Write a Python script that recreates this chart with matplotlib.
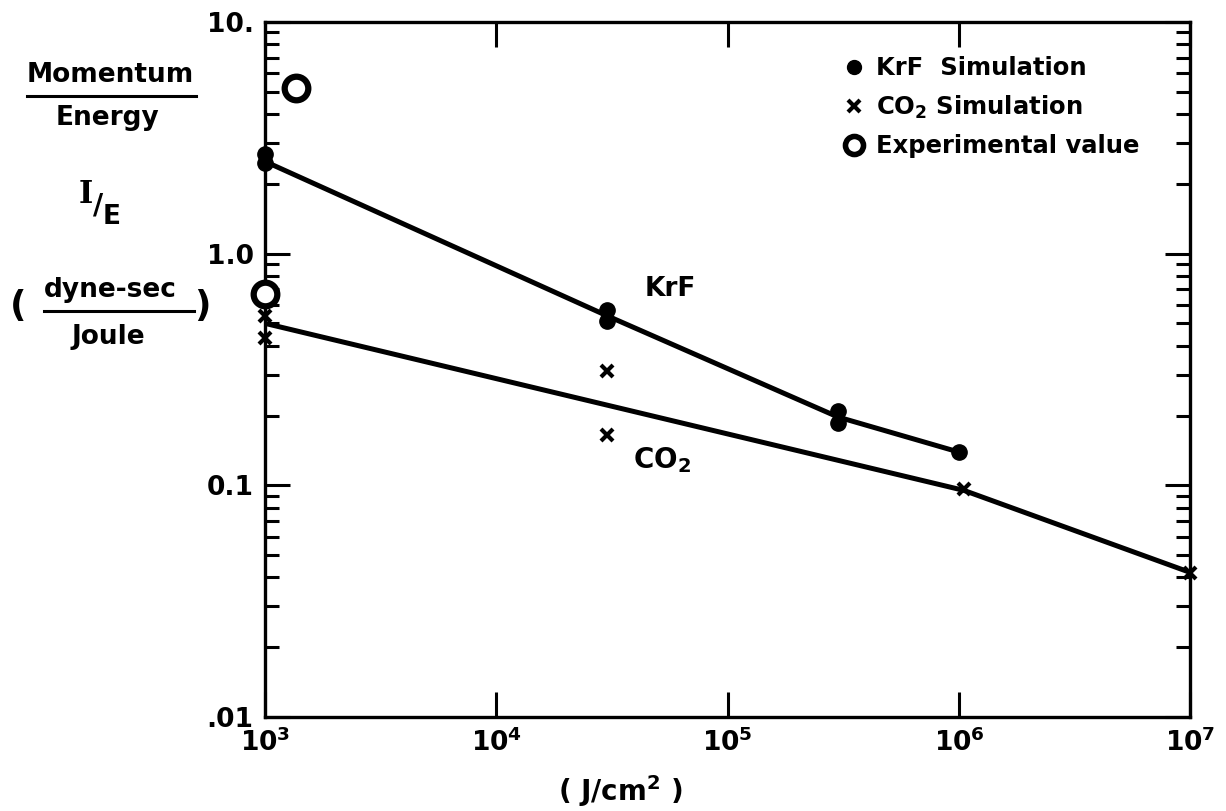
import numpy as np
import matplotlib.pyplot as plt
from matplotlib.lines import Line2D
from matplotlib.ticker import LogLocator, FixedLocator, NullFormatter

# values (log-log)
krf_x = [1e3, 1e3, 3e4, 3e4, 3e5, 3e5, 1e6]
krf_y = [2.7, 2.45, 0.57, 0.51, 0.21, 0.185, 0.139]
krf_line_x = [1e3, 3e4, 3e5, 1e6]
krf_line_y = [2.5, 0.54, 0.197, 0.139]

co2_x = [1e3, 1e3, 3e4, 3e4, 1.05e6, 1e7]
co2_y = [0.54, 0.43, 0.31, 0.165, 0.096, 0.042]
co2_line_x = [1e3, 1.05e6, 1e7]
co2_line_y = [0.50, 0.095, 0.042]

exp_x = [1.37e3, 1e3]
exp_y = [5.2, 0.67]

xticks = [1e3, 1e4, 1e5, 1e6, 1e7]
xticklabels = [r'$\mathbf{10^{3}}$', r'$\mathbf{10^{4}}$', r'$\mathbf{10^{5}}$',
               r'$\mathbf{10^{6}}$', r'$\mathbf{10^{7}}$']
yticks = [0.01, 0.1, 1.0, 10.0]
yticklabels = ['.01', '0.1', '1.0', '10.']

plt.rcParams['font.family'] = ['DejaVu Sans']
plt.rcParams['font.weight'] = 'bold'
plt.rcParams['mathtext.default'] = 'bf'

fig = plt.figure(figsize=(12.26, 8.11), dpi=100)
ax = fig.add_axes([0.216, 0.116, 0.755, 0.857])
ax.set_xscale('log')
ax.set_yscale('log')
ax.set_xlim(1e3, 1e7)
ax.set_ylim(0.01, 10)

# curves
ax.plot(krf_line_x, krf_line_y, color='black', lw=3.6, solid_capstyle='round', zorder=2)
ax.plot(co2_line_x, co2_line_y, color='black', lw=3.6, solid_capstyle='round', zorder=2)

# data points
ax.plot(krf_x, krf_y, 'o', color='black', ms=11, zorder=3, clip_on=False)
ax.plot(co2_x, co2_y, 'x', color='black', ms=9, mew=3, zorder=3, clip_on=False)
ax.plot(exp_x, exp_y, 'o', mfc='white', mec='black', ms=17, mew=4.5, zorder=4, clip_on=False)

# curve labels
ax.text(4.4e4, 0.70, 'KrF', fontsize=19, fontweight='bold', va='center')
ax.text(3.9e4, 0.128, 'CO$_2$', fontsize=20, fontweight='bold', va='center')

# axes styling
for s in ax.spines.values():
    s.set_linewidth(2.4)
ax.xaxis.set_major_locator(FixedLocator(xticks))
ax.xaxis.set_minor_locator(FixedLocator([]))
ax.set_xticklabels(xticklabels)
ax.yaxis.set_major_locator(FixedLocator(yticks))
ax.yaxis.set_minor_locator(LogLocator(base=10, subs=np.arange(2, 10)))
ax.yaxis.set_minor_formatter(NullFormatter())
ax.set_yticklabels(yticklabels)
ax.tick_params(which='both', direction='in', top=True, right=True, width=2.2)
ax.tick_params(which='major', length=18, labelsize=19, pad=8)
ax.tick_params(which='minor', length=10)
for lab in ax.get_xticklabels() + ax.get_yticklabels():
    lab.set_fontweight('bold')

# legend
handles = [
    Line2D([], [], ls='none', marker='o', color='black', ms=10),
    Line2D([], [], ls='none', marker='x', color='black', ms=8, mew=3),
    Line2D([], [], ls='none', marker='o', mfc='white', mec='black', ms=13, mew=4),
]
labels = ['KrF  Simulation', 'CO$_2$ Simulation', 'Experimental value']
ax.legend(handles, labels, loc='upper left', bbox_to_anchor=(0.605, 0.982),
          frameon=False, handlelength=0.6, handletextpad=0.6,
          labelspacing=0.55, prop={'weight': 'bold', 'size': 17.5})

# y-axis label block
fig.text(0.090, 0.907, 'Momentum', fontsize=19, fontweight='bold', ha='center', va='center')
fig.add_artist(Line2D([0.022, 0.160], [0.882, 0.882], color='black', lw=2.2))
fig.text(0.088, 0.855, 'Energy', fontsize=19, fontweight='bold', ha='center', va='center')
fig.text(0.070, 0.760, 'I', fontsize=22, fontweight='bold', ha='center', va='center', family='DejaVu Serif')
fig.text(0.080, 0.747, '/', fontsize=20, fontweight='bold', ha='center', va='center')
fig.text(0.091, 0.733, 'E', fontsize=19, fontweight='bold', ha='center', va='center')
fig.text(0.015, 0.623, '(', fontsize=26, fontweight='bold', ha='center', va='center')
fig.text(0.090, 0.643, 'dyne-sec', fontsize=19, fontweight='bold', ha='center', va='center')
fig.add_artist(Line2D([0.036, 0.158], [0.617, 0.617], color='black', lw=2.2))
fig.text(0.088, 0.585, 'Joule', fontsize=19, fontweight='bold', ha='center', va='center')
fig.text(0.165, 0.623, ')', fontsize=26, fontweight='bold', ha='center', va='center')

# x-axis label
fig.text(0.506, 0.025, '( J/cm$^2$ )', fontsize=20, fontweight='bold', ha='center', va='center')

fig.savefig('out.png', dpi=100)
